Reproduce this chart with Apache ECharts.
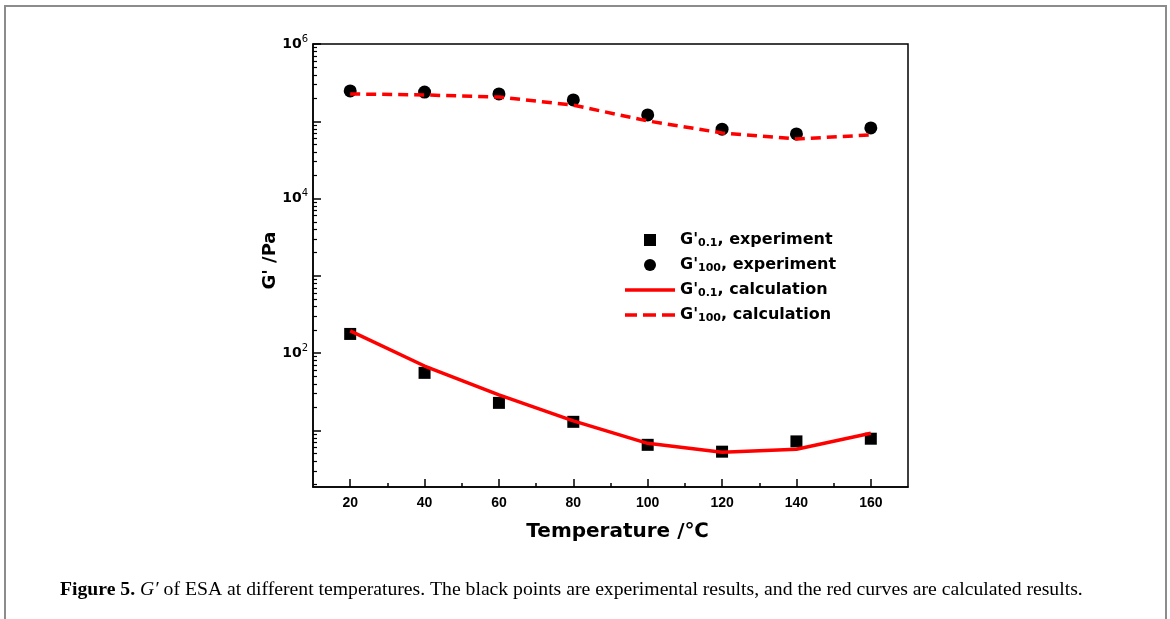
<!DOCTYPE html>
<html>
<head>
<meta charset="utf-8">
<script src="https://cdn.jsdelivr.net/npm/echarts@6/dist/echarts.min.js"></script>
<style>
  html, body { margin: 0; padding: 0; background: #fff; }
  #frame { position: absolute; left: 4px; top: 5px; width: 1159px; height: 620px;
           border-top: 2px solid #8c8c8c; border-left: 2px solid #8c8c8c; border-right: 2px solid #8c8c8c; }
  #chart { position: absolute; left: 0; top: 0; width: 1170px; height: 619px; }
</style>
</head>
<body>
<div id="frame"></div>
<div id="chart"></div>
<script>
// ---- data ----
const temperatures = [20, 40, 60, 80, 100, 120, 140, 160];
const g01Experiment  = [177, 55.5, 22.7, 12.9, 6.5, 5.3, 7.2, 7.8];
const g100Experiment = [247000, 239000, 226000, 189000, 121000, 79000, 68500, 82000];
const g01Calculation  = [194, 68, 28.8, 13.3, 6.8, 5.2, 5.7, 9.2];
const g100Calculation = [226000, 219000, 206000, 162000, 101000, 70600, 59000, 66500];

const xMajorTicks = [20, 40, 60, 80, 100, 120, 140, 160];
const xMinorTicks = [30, 50, 70, 90, 110, 130, 150];
const yMajorTicks = [10, 100, 1000, 10000, 100000, 1000000];
const yLabelTicks = [100, 10000, 1000000];
const yMinorMultipliers = [2, 3, 4, 5, 6, 7, 8, 9];
const yDecades = [1, 10, 100, 1000, 10000, 100000];

const seriesNames = ["G'0.1, experiment", "G'100, experiment", "G'0.1, calculation", "G'100, calculation"];
const legendRich = {
  ["G'0.1, experiment"]:  "{m|G'}{s|0.1}{m|, experiment}",
  ["G'100, experiment"]:  "{m|G'}{s|100}{m|, experiment}",
  ["G'0.1, calculation"]: "{m|G'}{s|0.1}{m|, calculation}",
  ["G'100, calculation"]: "{m|G'}{s|100}{m|, calculation}"
};

const yMinMax = [1.85, 1000000];
const yMinorTicks = [];
yDecades.forEach(d => yMinorMultipliers.forEach(m => {
  const v = d * m;
  if (v >= yMinMax[0] && v <= yMinMax[1]) yMinorTicks.push(v);
}));

const pair = arr => temperatures.map((t, i) => [t, arr[i]]);

const FONT = 'Liberation Sans, Arial, sans-serif';
const WIDE = 'DejaVu Sans, sans-serif';
const SERIF = 'Liberation Serif, serif';
const RED = '#ff0000';

const ICON_SQUARE = 'path://M0,0L10,0L10,10L0,10Z';
const ICON_SOLID = 'path://M0,0L50,0L50,3.5L0,3.5Z';
const ICON_DASH = 'path://M0,0L12,0L12,3.5L0,3.5Z M18,0L31,0L31,3.5L18,3.5Z M37,0L50,0L50,3.5L37,3.5Z';

const chart = echarts.init(document.getElementById('chart'), null, { renderer: 'canvas' });
chart.setOption({
  backgroundColor: 'transparent',
  animation: false,
  title: {
    text: "{b|Figure 5.} {i|G′} {n|of ESA at different temperatures. The black points are experimental results, and the red curves are calculated results.}",
    left: 55, top: 575,
    textStyle: {
      fontWeight: 'normal',
      rich: {
        b: { fontFamily: SERIF, fontWeight: 'bold', fontSize: 19.7, color: '#000' },
        i: { fontFamily: SERIF, fontWeight: 'normal', fontStyle: 'italic', fontSize: 19.7, color: '#000' },
        n: { fontFamily: SERIF, fontWeight: 'normal', fontSize: 19.7, color: '#000' }
      }
    }
  },
  grid: {
    left: 313, right: 262, top: 44, bottom: 132,
    show: true, borderColor: '#000', borderWidth: 1.5, backgroundColor: 'transparent'
  },
  legend: {
    orient: 'vertical', left: 620, top: 226,
    itemWidth: 50, itemHeight: 12, itemGap: 7,
    symbolKeepAspect: true,
    data: [
      { name: seriesNames[0], icon: ICON_SQUARE },
      { name: seriesNames[1], icon: 'circle' },
      { name: seriesNames[2], icon: ICON_SOLID },
      { name: seriesNames[3], icon: ICON_DASH }
    ],
    formatter: name => legendRich[name],
    textStyle: {
      rich: {
        m: { fontFamily: WIDE, fontWeight: 'bold', fontSize: 16, color: '#000', lineHeight: 16 },
        s: { fontFamily: WIDE, fontWeight: 'bold', fontSize: 11, color: '#000', padding: [7, 0, 0, 0], lineHeight: 16 }
      }
    }
  },
  xAxis: [
    {
      type: 'value', min: 10, max: 170, position: 'bottom',
      name: 'Temperature /℃', nameLocation: 'middle', nameGap: 35, nameMoveOverlap: false,
      nameTextStyle: { fontFamily: WIDE, fontWeight: 'bold', fontSize: 20, color: '#000', padding: [0, 0, 0, 14] },
      axisLine: { show: true, lineStyle: { color: '#000', width: 1.5 } },
      axisTick: { show: true, inside: true, length: 8, customValues: xMajorTicks, lineStyle: { color: '#000', width: 1.5 } },
      axisLabel: { customValues: xMajorTicks, margin: 9, fontFamily: FONT, fontWeight: 'bold', fontSize: 14, color: '#000' },
      splitLine: { show: false }
    },
    {
      type: 'value', min: 10, max: 170, position: 'bottom',
      axisLine: { show: false },
      axisTick: { show: true, inside: true, length: 4, customValues: xMinorTicks, lineStyle: { color: '#000', width: 1.5 } },
      axisLabel: { show: false },
      splitLine: { show: false }
    }
  ],
  yAxis: [
    {
      type: 'log', logBase: 10, min: yMinMax[0], max: yMinMax[1], position: 'left',
      name: "G' /Pa", nameLocation: 'middle', nameGap: 34, nameMoveOverlap: false,
      nameTextStyle: { fontFamily: WIDE, fontWeight: 'bold', fontSize: 18, color: '#000', padding: [0, 0, 0, 10] },
      axisLine: { show: true, lineStyle: { color: '#000', width: 1.5 } },
      axisTick: { show: true, inside: true, length: 8, customValues: yMajorTicks, lineStyle: { color: '#000', width: 1.5 } },
      axisLabel: {
        customValues: yLabelTicks, margin: 5,
        formatter: v => '{b|10}{p|' + Math.round(Math.log10(v)) + '}',
        rich: {
          b: { fontFamily: WIDE, fontWeight: 'bold', fontSize: 14, color: '#000' },
          p: { fontFamily: WIDE, fontSize: 10, color: '#000', padding: [0, 0, 10, 0] }
        }
      },
      splitLine: { show: false }
    },
    {
      type: 'log', logBase: 10, min: yMinMax[0], max: yMinMax[1], position: 'left',
      axisLine: { show: false },
      axisTick: { show: true, inside: true, length: 4, customValues: yMinorTicks, lineStyle: { color: '#000', width: 1.2 } },
      axisLabel: { show: false },
      splitLine: { show: false }
    }
  ],
  series: [
    {
      name: seriesNames[0], type: 'scatter', symbol: 'rect', symbolSize: 12,
      itemStyle: { color: '#000', opacity: 1 }, data: pair(g01Experiment), z: 2
    },
    {
      name: seriesNames[1], type: 'scatter', symbol: 'circle', symbolSize: 13,
      itemStyle: { color: '#000', opacity: 1 }, data: pair(g100Experiment), z: 2
    },
    {
      name: seriesNames[2], type: 'line', symbol: 'none', showSymbol: false,
      lineStyle: { color: RED, width: 3.5 }, itemStyle: { color: RED },
      data: pair(g01Calculation), z: 3
    },
    {
      name: seriesNames[3], type: 'line', symbol: 'none', showSymbol: false,
      lineStyle: { color: RED, width: 3.5, type: [10, 6] }, itemStyle: { color: RED },
      data: pair(g100Calculation), z: 3
    }
  ]
});
</script>
</body>
</html>
